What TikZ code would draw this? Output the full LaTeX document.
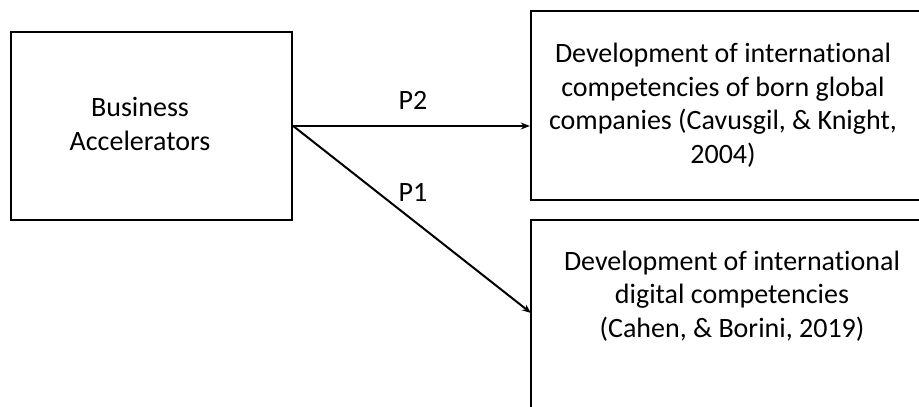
\documentclass[tikz,border=0pt]{standalone}
\usepackage{fontspec}
\setmainfont[Ligatures=NoCommon]{Carlito}
\usetikzlibrary{arrows.meta}
\begin{document}
\begin{tikzpicture}[x=1pt,y=1pt,
  boxshape/.style={draw, line width=2.4pt, rectangle, inner sep=0pt},
  boxtext/.style={align=center, inner sep=0pt, font=\fontsize{28}{33.5}\selectfont},
  lbl/.style={inner sep=0pt, font=\fontsize{28}{33.5}\selectfont},
  conn/.style={line width=2pt, -{Stealth[length=9pt,width=7pt]}}]
\useasboundingbox (0,0) rectangle (919,407);
\clip (0,0) rectangle (919,407);
\node[boxshape, minimum width=281pt, minimum height=188pt] (ba) at (151.5,281) {};
\node[boxshape, minimum width=391pt, minimum height=189pt] (b1) at (726.5,301.5) {};
\node[boxshape, minimum width=391pt, minimum height=200pt] (b2) at (726.5,87) {};
\node[boxtext] (tba) at (140,283) {Business\\Accelerators};
\node[boxtext] (tb1) at (723,302) {Development of international\\competencies of born global\\companies (Cavusgil, \& Knight,\\2004)};
\node[boxtext] (tb2) at (732,111) {Development of international\\digital competencies\\(Cahen, \& Borini, 2019)};
\coordinate (p1end) at (531,94);
\draw[conn] (ba.east) -- (ba.east -| b1.west);
\draw[conn] (ba.east) -- (p1end);
\node[lbl] (lp2) at (413,307) {P2};
\node[lbl] (lp1) at (413,215) {P1};
\end{tikzpicture}
\end{document}
